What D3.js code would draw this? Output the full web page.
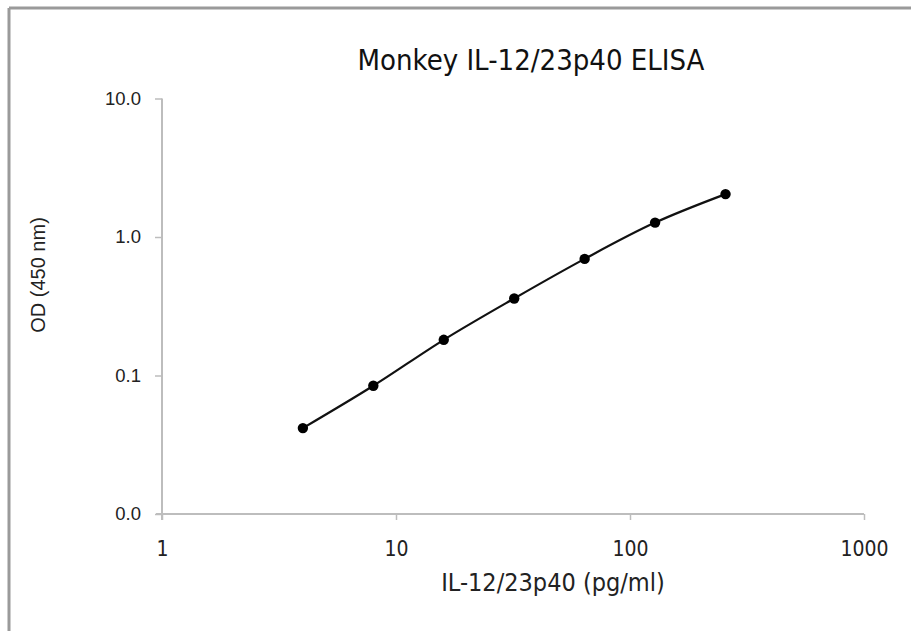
<!DOCTYPE html>
<html>
<head>
<meta charset="utf-8">
<script src="https://cdn.jsdelivr.net/npm/d3@7"></script>
<style>
  html, body { margin: 0; padding: 0; background: #fff; }
  svg { display: block; }
</style>
</head>
<body>
<svg id="chart" width="911" height="631"></svg>
<script>
// ---- data ----
const chartTitle = "Monkey IL-12/23p40 ELISA";
const xTitle = "IL-12/23p40 (pg/ml)";
const yTitle = "OD (450 nm)";
const concentrations = [4, 8, 16, 32, 64, 128, 256];
const odValues = [0.0417, 0.0843, 0.181, 0.360, 0.695, 1.27, 2.04];
const xTickValues = [1, 10, 100, 1000];
const xTickLabels = ["1", "10", "100", "1000"];
const yTickValues = [0.01, 0.1, 1, 10];
const yTickLabels = ["0.0", "0.1", "1.0", "10.0"];

// ---- layout ----
const svg = d3.select("#chart");
const W = 911, H = 631;
const mLeft = 162, mRight = 864, mTop = 98.5, mBottom = 514;

svg.append("rect").attr("x", 0).attr("y", 0).attr("width", W).attr("height", H).attr("fill", "#fff");

// outer frame (top + left visible)
svg.append("line").attr("x1", 9).attr("x2", W).attr("y1", 8).attr("y2", 8)
  .attr("stroke", "#9a9a9a").attr("stroke-width", 3);
svg.append("line").attr("x1", 9).attr("x2", 9).attr("y1", 8).attr("y2", H)
  .attr("stroke", "#9a9a9a").attr("stroke-width", 3);

const x = d3.scaleLog().domain([1, 1000]).range([mLeft, mRight]);
const y = d3.scaleLog().domain([0.01, 10]).range([mBottom, mTop]);

const axisColor = "#bdbdbd";

// x axis
const xAxis = d3.axisBottom(x).tickValues(xTickValues)
  .tickFormat((d, i) => xTickLabels[i]).tickSize(6).tickSizeOuter(0);
const gx = svg.append("g").attr("transform", `translate(0,${mBottom})`).call(xAxis);
gx.select(".domain").attr("stroke", axisColor).attr("stroke-width", 2)
  .attr("d", `M${mLeft - 6},0H${mRight}`);
gx.selectAll(".tick line").attr("stroke", axisColor).attr("stroke-width", 1.5);
gx.selectAll(".tick text").attr("fill", "#222").attr("dy", null).attr("y", 42)
  .style("font-family", "'DejaVu Sans Condensed', 'DejaVu Sans', sans-serif")
  .style("font-size", "21px");

// y axis
const yAxis = d3.axisLeft(y).tickValues(yTickValues)
  .tickFormat((d, i) => yTickLabels[i]).tickSize(7).tickSizeOuter(0);
const gy = svg.append("g").attr("transform", `translate(${mLeft},0)`).call(yAxis);
gy.select(".domain").attr("stroke", axisColor).attr("stroke-width", 2)
  .attr("d", `M0,${mTop}V${mBottom + 6}`);
gy.selectAll(".tick line").attr("stroke", axisColor).attr("stroke-width", 1.5);
gy.selectAll(".tick text").attr("fill", "#222").attr("x", -21)
  .style("font-family", "'Liberation Sans', Arial, sans-serif")
  .style("font-size", "18.5px");

// line + points
const pts = concentrations.map((c, i) => [c, odValues[i]]);
const line = d3.line().x(d => x(d[0])).y(d => y(d[1])).curve(d3.curveCatmullRom.alpha(0.5));
svg.append("path").datum(pts).attr("d", line)
  .attr("fill", "none").attr("stroke", "#111").attr("stroke-width", 2.2);
svg.selectAll("circle.pt").data(pts).enter().append("circle")
  .attr("class", "pt")
  .attr("cx", d => x(d[0])).attr("cy", d => y(d[1])).attr("r", 5.2)
  .attr("fill", "#000");

// titles
svg.append("text").attr("x", 531).attr("y", 70).attr("text-anchor", "middle")
  .style("font-family", "'DejaVu Sans Condensed', 'DejaVu Sans', sans-serif")
  .style("font-size", "29px").attr("fill", "#111").text(chartTitle);

svg.append("text").attr("x", 553).attr("y", 591).attr("text-anchor", "middle")
  .style("font-family", "'DejaVu Sans Condensed', 'DejaVu Sans', sans-serif")
  .style("font-size", "25px").attr("fill", "#222").text(xTitle);

svg.append("text").attr("transform", "translate(45,275) rotate(-90)")
  .attr("text-anchor", "middle")
  .style("font-family", "'Liberation Sans', Arial, sans-serif")
  .style("font-size", "20px").attr("fill", "#222").text(yTitle);
</script>
</body>
</html>
